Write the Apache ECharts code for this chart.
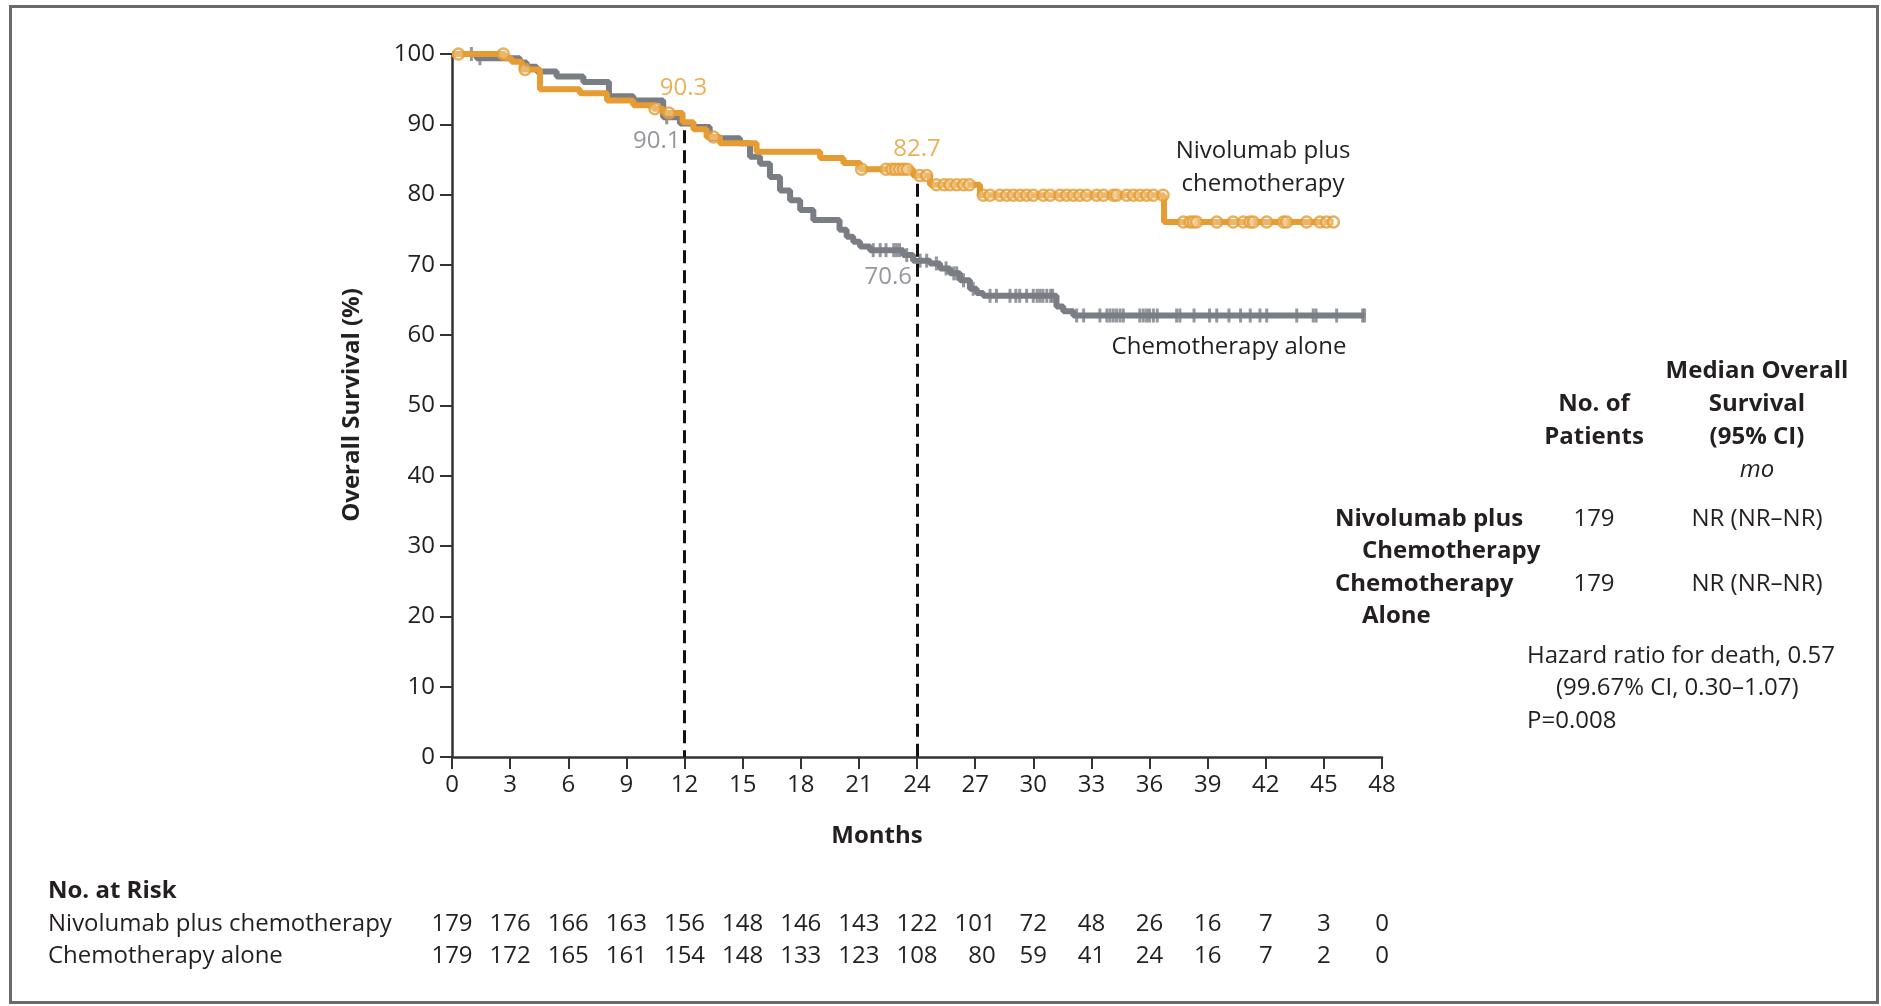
<!DOCTYPE html>
<html>
<head>
<meta charset="utf-8">
<script src="https://cdn.jsdelivr.net/npm/echarts/dist/echarts.min.js"></script>
<style>
  html, body { margin: 0; padding: 0; background: #fff; }
  #chart { width: 1881px; height: 1006px; }
</style>
</head>
<body>
<div id="chart"></div>
<script>
// Kaplan-Meier estimates: each time starts a step holding the listed survival (%)
const nivoTimes = [0, 2.74, 3.08, 3.6, 4.54, 6.6, 8.0, 9.36, 10.39, 10.91, 11.9, 12.46, 13.14, 13.83, 15.72, 19.0, 20.2, 21.06, 23.8, 24.67, 27.25, 36.75, 45.5];
const nivoSurv  = [100, 99.4, 98.9, 97.8, 95.0, 94.4, 93.4, 92.7, 92.2, 91.6, 90.3, 89.3, 88.2, 87.3, 86.1, 85.2, 84.5, 83.6, 82.7, 81.4, 79.9, 76.1, 76.1];

const chemoTimes = [0, 1.27, 3.5, 3.85, 4.37, 5.4, 6.78, 8.1, 9.36, 10.9, 11.77, 12.46, 13.3, 14.86, 15.38, 15.9, 16.41, 16.93, 17.45, 17.97, 18.65, 20.0, 20.37, 20.71, 21.06, 21.57, 23.29, 23.8, 24.67, 25.19, 25.7, 26.22, 26.73, 27.08, 27.42, 31.2, 31.55, 32.07, 47.1];
const chemoSurv  = [100, 99.4, 98.8, 98.2, 97.5, 96.8, 96.0, 94.0, 93.4, 91.0, 90.1, 89.6, 88.0, 87.3, 85.4, 84.4, 82.5, 80.6, 79.2, 77.8, 76.4, 75.0, 74.0, 73.3, 72.6, 72.1, 71.4, 70.6, 70.2, 69.5, 68.8, 67.8, 66.6, 66.0, 65.6, 64.1, 63.4, 62.8, 62.8];

// Censoring times (months)
const nivoCensor = [0.33, 2.65, 3.77, 10.47, 11.2, 13.5, 21.14, 22.4, 22.7, 22.9, 23.1, 23.3, 23.5, 24.15, 24.5, 25.0, 25.4, 25.7, 26.05, 26.4, 26.7, 27.42, 27.77, 28.28, 28.63, 28.97, 29.32, 29.66, 30.0, 30.52, 30.87, 31.38, 31.73, 32.07, 32.41, 32.76, 33.27, 33.62, 34.13, 34.3, 34.82, 35.17, 35.51, 35.86, 36.2, 36.7, 37.75, 38.09, 38.26, 38.43, 39.47, 40.32, 40.84, 41.19, 41.36, 42.05, 42.91, 43.08, 44.11, 44.8, 45.14, 45.49];
const chemoCensor = [1.0, 1.44, 11.08, 21.74, 22.1, 22.4, 22.8, 22.95, 23.1, 23.47, 24.16, 24.5, 25.0, 25.5, 25.9, 26.05, 26.4, 26.9, 27.77, 28.1, 28.8, 29.1, 29.3, 29.66, 30.0, 30.2, 30.35, 30.5, 30.7, 30.9, 31.0, 32.24, 32.6, 33.44, 33.8, 33.96, 34.13, 34.3, 34.48, 34.65, 35.5, 35.68, 35.85, 36.0, 36.2, 36.4, 37.4, 37.57, 38.3, 39.1, 39.47, 40.1, 40.7, 41.2, 41.7, 42.05, 43.6, 44.45, 44.6, 45.66, 47.0, 47.1];

// Landmark estimates at 12 and 24 months
const landmarkMonths = [12, 24];
const nivoLandmark = [90.3, 82.7];
const chemoLandmark = [90.1, 70.6];

// Number at risk
const riskMonths = [0, 3, 6, 9, 12, 15, 18, 21, 24, 27, 30, 33, 36, 39, 42, 45, 48];
const nivoRisk  = [179, 176, 166, 163, 156, 148, 146, 143, 122, 101, 72, 48, 26, 16, 7, 3, 0];
const chemoRisk = [179, 172, 165, 161, 154, 148, 133, 123, 108, 80, 59, 41, 24, 16, 7, 2, 0];

const FONT = '"Open Sans", "Noto Sans", sans-serif';
const ORANGE = '#E59C32';
const GRAY = '#7B7D84';
const INK = '#231F20';
const FS = 24;

function pairs(times, vals) { return times.map((t, i) => [t, vals[i]]); }
function survAt(times, vals, t) {
  let v = vals[0];
  for (let i = 0; i < times.length; i++) { if (times[i] <= t) v = vals[i]; else break; }
  return v;
}

const chart = echarts.init(document.getElementById('chart'), null, { renderer: 'canvas' });

const gridBox = { left: 452, top: 54, width: 930, height: 703 };

const option = {
  animation: false,
  backgroundColor: '#fff',
  textStyle: { fontFamily: FONT },
  grid: gridBox,
  xAxis: {
    type: 'value', min: 0, max: 48, interval: 3,
    axisLine: { show: true, lineStyle: { color: '#333', width: 2.5 } },
    axisTick: { show: true, length: 12, lineStyle: { color: '#333', width: 2 } },
    axisLabel: { color: INK, fontSize: FS, fontFamily: FONT, margin: 16, lineHeight: 24 },
    splitLine: { show: false }
  },
  yAxis: {
    type: 'value', min: 0, max: 100, interval: 10,
    axisLine: { show: true, lineStyle: { color: '#333', width: 2.5 } },
    axisTick: { show: true, length: 12, lineStyle: { color: '#333', width: 2 } },
    axisLabel: { color: INK, fontSize: FS, fontFamily: FONT, margin: 17 },
    splitLine: { show: false }
  },
  series: [
    {
      name: 'Chemotherapy alone', type: 'line', step: 'end', z: 2,
      data: pairs(chemoTimes, chemoSurv), showSymbol: false,
      lineStyle: { color: GRAY, width: 6 }
    },
    {
      name: 'Chemotherapy alone censored', type: 'scatter', z: 3,
      data: chemoCensor.map(t => [t, survAt(chemoTimes, chemoSurv, t)]),
      symbol: 'rect', symbolSize: [3, 14],
      itemStyle: { color: GRAY }
    },
    {
      name: 'Nivolumab plus chemotherapy', type: 'line', step: 'end', z: 4,
      data: pairs(nivoTimes, nivoSurv), showSymbol: false,
      lineStyle: { color: ORANGE, width: 6 }
    },
    {
      name: 'Nivolumab plus chemotherapy censored', type: 'scatter', z: 5,
      data: nivoCensor.map(t => [t, survAt(nivoTimes, nivoSurv, t)]),
      symbol: 'circle', symbolSize: 11,
      itemStyle: { color: 'rgba(255,255,255,0.35)', borderColor: ORANGE, borderWidth: 2.5 }
    },
    {
      name: 'Landmarks', type: 'line', z: 6, data: [],
      markLine: {
        silent: true, symbol: ['none', 'none'], label: { show: false },
        lineStyle: { color: '#111', width: 3, type: [13, 7] },
        data: landmarkMonths.map((m, i) => [
          { coord: [m, Math.max(nivoLandmark[i], chemoLandmark[i]) - 1.15] },
          { coord: [m, 0] }
        ])
      }
    },
    {
      name: 'Nivolumab landmark labels', type: 'scatter', z: 7, symbolSize: 0,
      data: landmarkMonths.map((m, i) => ({
        value: [m, nivoLandmark[i]],
        label: {
          show: true, position: 'inside', align: 'center', verticalAlign: 'middle',
          offset: i === 0 ? [-1, -34] : [0, -26],
          formatter: String(nivoLandmark[i].toFixed(1)),
          color: ORANGE, fontSize: FS, fontFamily: FONT
        }
      }))
    },
    {
      name: 'Chemotherapy landmark labels', type: 'scatter', z: 7, symbolSize: 0,
      data: landmarkMonths.map((m, i) => ({
        value: [m, chemoLandmark[i]],
        label: {
          show: true, position: 'inside', align: 'right', verticalAlign: 'middle',
          offset: i === 0 ? [-4, 18] : [-5, 16],
          formatter: String(chemoLandmark[i].toFixed(1)),
          color: GRAY, fontSize: FS, fontFamily: FONT
        }
      }))
    }
  ]
};

chart.setOption(option);

// Text blocks: axis titles, curve names, summary table, number-at-risk table
function txt(x, y, text, opts) {
  opts = opts || {};
  return {
    type: 'text', x: x, y: y, silent: true, z: 10,
    rotation: opts.rotation || 0,
    style: {
      text: text, fill: opts.color || INK,
      font: (opts.italic ? 'italic ' : '') + (opts.bold ? 'bold ' : '') + (opts.size || FS) + 'px ' + FONT,
      textAlign: opts.align || 'left', textVerticalAlign: 'middle'
    }
  };
}

const graphics = [];
graphics.push({
  type: 'rect', silent: true, z: 0,
  shape: { x: 10.5, y: 6.5, width: 1867, height: 996 },
  style: { fill: 'none', stroke: '#6a6a6a', lineWidth: 3 }
});

graphics.push(txt(352, 405, 'Overall Survival (%)', { bold: true, align: 'center', rotation: Math.PI / 2 }));
graphics.push(txt(877, 836, 'Months', { bold: true, align: 'center' }));

graphics.push(txt(1263, 151, 'Nivolumab plus', { align: 'center' }));
graphics.push(txt(1263, 184, 'chemotherapy', { align: 'center' }));
graphics.push(txt(1229, 347, 'Chemotherapy alone', { align: 'center' }));

// Summary table
graphics.push(txt(1757, 371, 'Median Overall', { bold: true, align: 'center' }));
graphics.push(txt(1757, 404, 'Survival', { bold: true, align: 'center' }));
graphics.push(txt(1757, 437, '(95% CI)', { bold: true, align: 'center' }));
graphics.push(txt(1757, 470, 'mo', { italic: true, align: 'center' }));
graphics.push(txt(1594, 404, 'No. of', { bold: true, align: 'center' }));
graphics.push(txt(1594, 437, 'Patients', { bold: true, align: 'center' }));

graphics.push(txt(1335, 519, 'Nivolumab plus', { bold: true }));
graphics.push(txt(1362, 551, 'Chemotherapy', { bold: true }));
graphics.push(txt(1594, 519, String(nivoRisk[0]), { align: 'center' }));
graphics.push(txt(1757, 519, 'NR (NR\u2013NR)', { align: 'center' }));

graphics.push(txt(1335, 584, 'Chemotherapy', { bold: true }));
graphics.push(txt(1362, 616, 'Alone', { bold: true }));
graphics.push(txt(1594, 584, String(chemoRisk[0]), { align: 'center' }));
graphics.push(txt(1757, 584, 'NR (NR\u2013NR)', { align: 'center' }));

graphics.push(txt(1527, 656, 'Hazard ratio for death, 0.57'));
graphics.push(txt(1556, 688, '(99.67% CI, 0.30\u20131.07)'));
graphics.push(txt(1527, 721, 'P=0.008'));

// Number at risk, columns centred on the month ticks and right-aligned within a column
graphics.push(txt(48, 891, 'No. at Risk', { bold: true }));
graphics.push(txt(48, 924, 'Nivolumab plus chemotherapy'));
graphics.push(txt(48, 956, 'Chemotherapy alone'));
const digitW = 0.572 * FS;
riskMonths.forEach((m, i) => {
  const px = chart.convertToPixel({ xAxisIndex: 0 }, m);
  const w = Math.max(String(nivoRisk[i]).length, String(chemoRisk[i]).length) * digitW;
  const right = px + w / 2;
  graphics.push(txt(right, 924, String(nivoRisk[i]), { align: 'right' }));
  graphics.push(txt(right, 956, String(chemoRisk[i]), { align: 'right' }));
});

chart.setOption({ graphic: graphics });
</script>
</body>
</html>
